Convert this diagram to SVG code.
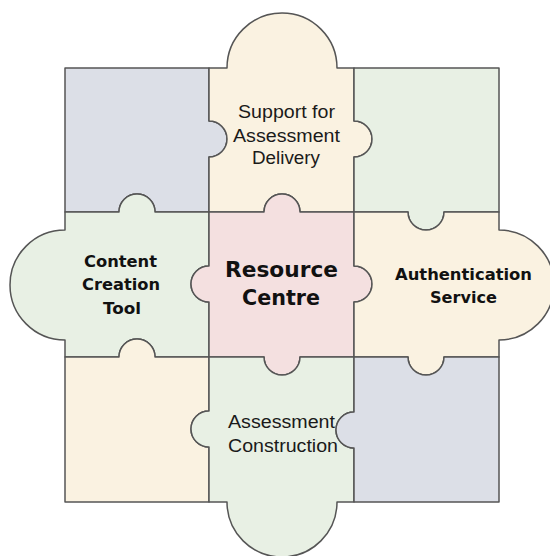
<svg xmlns="http://www.w3.org/2000/svg" width="550" height="556" viewBox="0 0 550 556">
<style>
.p{stroke:#555;stroke-width:1.5;stroke-linejoin:round}
.blue{fill:#dcdfe7}.cream{fill:#faf2e1}.green{fill:#e8f0e4}.pink{fill:#f4e0e0}
.n{font-family:"Liberation Sans",Arial,sans-serif;font-size:18px;fill:#1a1a1a;text-anchor:middle}
.b{font-family:"DejaVu Sans",Verdana,sans-serif;font-weight:bold;font-size:16px;fill:#111;text-anchor:middle}
.big{font-size:22px}
</style>
<rect width="550" height="556" fill="#fff"/>
<g id="blue-top-left"><path class="p blue" d="M65,68 H209 V121 A18,18 0 0 1 209,157 V212 H155 A18,18 0 0 0 119,212 H65 Z"/></g>
<g id="support-assessment-delivery"><path class="p cream" d="M209,68 H227 A55,55 0 0 1 337,68 H354 V121 A18,18 0 0 1 354,157 V212 H300 A18,18 0 0 0 264,212 H209 V157 A18,18 0 0 0 209,121 Z"/>
<text class="n" x="286.5" y="118" textLength="97" lengthAdjust="spacingAndGlyphs">Support for</text>
<text class="n" x="286.5" y="142" textLength="107" lengthAdjust="spacingAndGlyphs">Assessment</text>
<text class="n" x="286" y="164" textLength="68" lengthAdjust="spacingAndGlyphs">Delivery</text></g>
<g id="green-top-right"><path class="p green" d="M354,68 H499 V212 H444 A18,18 0 0 1 408,212 H354 V157 A18,18 0 0 0 354,121 Z"/></g>
<g id="content-creation-tool"><path class="p green" d="M65,212 H119 A18,18 0 0 1 155,212 H209 V266 A18,18 0 0 0 209,302 V357 H155 A18,18 0 0 0 119,357 H65 V340 A55,55 0 0 1 65,230 Z"/>
<text class="b" x="120.5" y="267" textLength="73" lengthAdjust="spacingAndGlyphs">Content</text>
<text class="b" x="121" y="290" textLength="78" lengthAdjust="spacingAndGlyphs">Creation</text>
<text class="b" x="122" y="314" textLength="38" lengthAdjust="spacingAndGlyphs">Tool</text></g>
<g id="resource-centre"><path class="p pink" d="M209,212 H264 A18,18 0 0 1 300,212 H354 V266 A18,18 0 0 1 354,302 V357 H300 A18,18 0 0 1 264,357 H209 V302 A18,18 0 0 1 209,266 Z"/>
<text class="b big" x="281.5" y="277" textLength="113" lengthAdjust="spacingAndGlyphs">Resource</text>
<text class="b big" x="281" y="305" textLength="78" lengthAdjust="spacingAndGlyphs">Centre</text></g>
<g id="authentication-service"><path class="p cream" d="M354,212 H408 A18,18 0 0 0 444,212 H499 V230 A55,55 0 0 1 499,340 V357 H444 A18,18 0 0 1 408,357 H354 V302 A18,18 0 0 0 354,266 Z"/>
<text class="b" x="463.5" y="280" textLength="137" lengthAdjust="spacingAndGlyphs">Authentication</text>
<text class="b" x="463.5" y="303" textLength="67" lengthAdjust="spacingAndGlyphs">Service</text></g>
<g id="cream-bottom-left"><path class="p cream" d="M65,357 H119 A18,18 0 0 1 155,357 H209 V411 A18,18 0 0 0 209,447 V502 H65 Z"/></g>
<g id="assessment-construction"><path class="p green" d="M209,357 H264 A18,18 0 0 0 300,357 H354 V412 A18,18 0 0 0 354,448 V502 H337 A55,55 0 0 1 227,502 H209 V447 A18,18 0 0 1 209,411 Z"/>
<text class="n" x="281.5" y="428" textLength="107" lengthAdjust="spacingAndGlyphs">Assessment</text>
<text class="n" x="283" y="452" textLength="110" lengthAdjust="spacingAndGlyphs">Construction</text></g>
<g id="blue-bottom-right"><path class="p blue" d="M354,357 H408 A18,18 0 0 0 444,357 H499 V502 H354 V448 A18,18 0 0 1 354,412 Z"/></g>
<g id="connectors"></g>
</svg>
